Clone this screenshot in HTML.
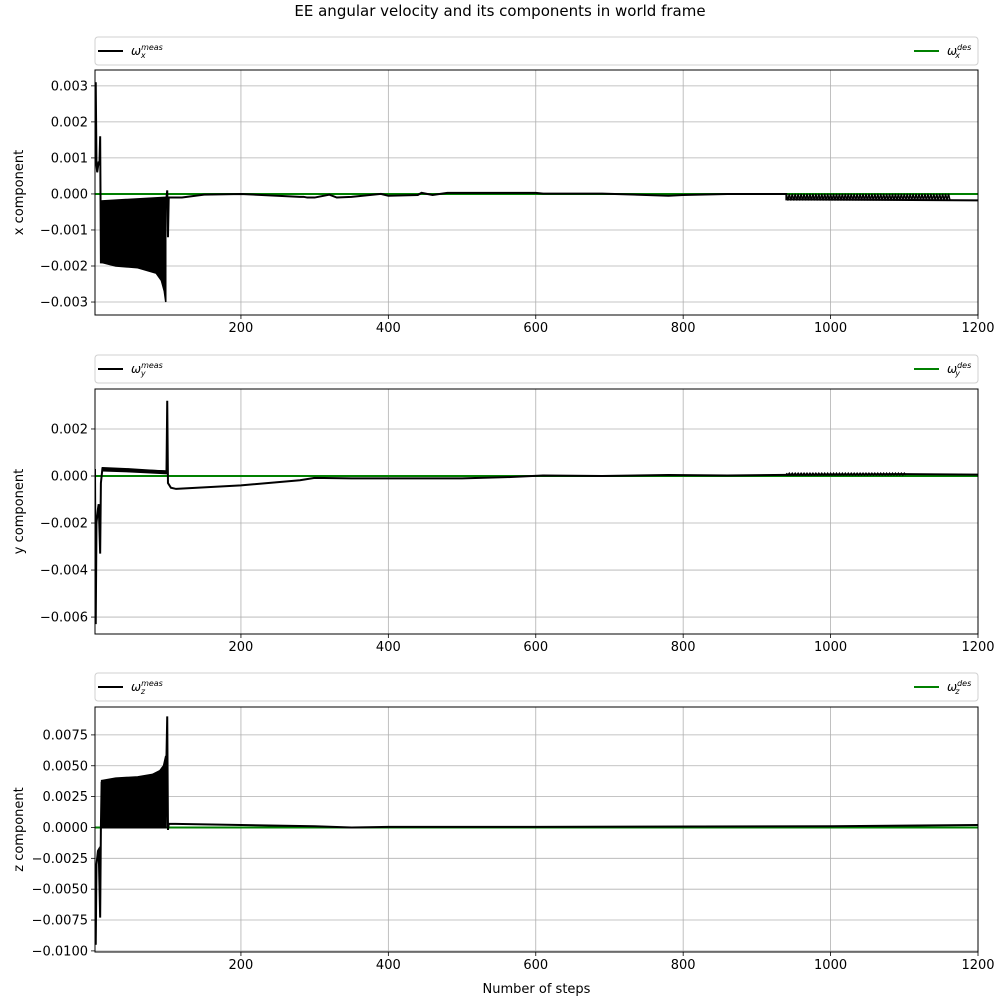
<!DOCTYPE html>
<html><head><meta charset="utf-8"><style>
body{margin:0;background:#fff;font-family:"Liberation Sans","DejaVu Sans",sans-serif}
svg text{font-family:"DejaVu Sans","Liberation Sans",sans-serif}
</style></head><body>
<svg id="fig" width="1000" height="1000" xmlns="http://www.w3.org/2000/svg">
<rect width="1000" height="1000" fill="#fff"/>
<text x="500" y="16" text-anchor="middle" font-size="15">EE angular velocity and its components in world frame</text>
</svg>
<script>
// ---- data ----
const xTicks=[200,400,600,800,1000,1200];
const xLabel="Number of steps";
const xTickLabels=["200","400","600","800","1000","1200"];
const xLine=[[2,0.003],[3,0.0031],[4,0.0008],[5,0.0006],[7,0.0009],[8,0.0008],[9,0.0016],[10,-0.0019],[11,-0.0019],[11,-0.0002],[99,-0.0001],[100,0.0001],[101,-0.0012],[102,-0.0001],[120,-0.0001],[150,-0.00002],[200,0],[280,-0.00008],[285,-0.00008],[290,-0.0001],[300,-0.0001],[320,-0.00002],[330,-0.0001],[350,-0.00008],[390,0],[400,-0.00005],[440,-0.00003],[445,0.00003],[460,-0.00003],[480,0.00003],[500,0.00003],[520,0.00003],[560,0.00003],[600,0.00003],[610,0.00001],[690,0.00001],[780,-0.00005],[800,-0.00003],[860,0],[940,0],[940,-0.00015],[1200,-0.00018]];
const xBandSteps=[11,30,60,85,92,96,98];
const xBandUpper=[-0.00022,-0.0002,-0.00017,-0.00013,-0.00012,-0.00011,-0.0001];
const xBandLower=[-0.0019,-0.002,-0.00205,-0.0022,-0.0024,-0.0027,-0.003];
const xOsc=[[940,1160,0,-0.00018]];
const yLine=[[2,0.0003],[3,-0.0063],[4,-0.002],[6,-0.0014],[7,-0.0012],[9,-0.0033],[10,-0.0003],[12,0.0003],[99,0.0002],[100,0.0032],[101,-0.0003],[105,-0.0005],[112,-0.00055],[200,-0.0004],[280,-0.00018],[300,-0.00008],[350,-0.0001],[400,-0.0001],[450,-0.0001],[500,-0.0001],[560,-0.00005],[610,0.00002],[690,0],[780,0.00004],[860,0.00002],[940,0.00005],[1100,0.00008],[1200,0.00006]];
const yBandSteps=[12,50,99];
const yBandUpper=[0.00035,0.0003,0.0002];
const yBandLower=[0.00022,0.00018,0.0001];
const yOsc=[[940,1100,0.00012,0.00004]];
const zLine=[[2,-0.009],[3,-0.0095],[4,-0.003],[6,-0.0019],[7,-0.0018],[9,-0.0073],[10,0],[11,0.0037],[11,0],[98,0],[99,0.0058],[100,0.009],[101,-0.0002],[102,0.0003],[200,0.0002],[300,0.0001],[350,0],[400,0.00005],[600,0.00005],[1000,0.0001],[1200,0.0002]];
const zBandSteps=[11,30,60,80,90,95,98];
const zBandUpper=[0.0038,0.004,0.0041,0.0043,0.0046,0.005,0.0058];
const zBandLower=[0,0,0,0,0,0,0];
const zOsc=[];
const yTicksX=[0.003,0.002,0.001,0,-0.001,-0.002,-0.003];
const yTickLabelsX=["0.003","0.002","0.001","0.000","\u22120.001","\u22120.002","\u22120.003"];
const yTicksY=[0.002,0,-0.002,-0.004,-0.006];
const yTickLabelsY=["0.002","0.000","\u22120.002","\u22120.004","\u22120.006"];
const yTicksZ=[0.0075,0.005,0.0025,0,-0.0025,-0.005,-0.0075,-0.01];
const yTickLabelsZ=["0.0075","0.0050","0.0025","0.0000","\u22120.0025","\u22120.0050","\u22120.0075","\u22120.0100"];
// ---- render ----
const NS="http://www.w3.org/2000/svg";
const svg=document.getElementById('fig');
function mk(tag,attrs,parent){const e=document.createElementNS(NS,tag);for(const k in attrs)e.setAttribute(k,attrs[k]);(parent||svg).appendChild(e);return e;}
const L=95,R=978,X0=2,X1=1200;
function sx(v){return L+(v-X0)/(X1-X0)*(R-L);}
const panels=[
 {c:"x",top:70,bot:315,ymin:-0.00336,ymax:0.00344,line:xLine,bs:xBandSteps,bu:xBandUpper,bl:xBandLower,osc:xOsc,ticks:yTicksX,tl:yTickLabelsX,leg:37},
 {c:"y",top:389,bot:634,ymin:-0.00672,ymax:0.0037,line:yLine,bs:yBandSteps,bu:yBandUpper,bl:yBandLower,osc:yOsc,ticks:yTicksY,tl:yTickLabelsY,leg:355},
 {c:"z",top:707,bot:952,ymin:-0.01009,ymax:0.00976,line:zLine,bs:zBandSteps,bu:zBandUpper,bl:zBandLower,osc:zOsc,ticks:yTicksZ,tl:yTickLabelsZ,leg:673}
];
panels.forEach(p=>{
 const sy=v=>p.bot-(v-p.ymin)/(p.ymax-p.ymin)*(p.bot-p.top);
 const g=mk('g',{});
 
 
 xTicks.forEach((t,i)=>{const x=sx(t);
  const gl=mk('line',{x1:x,x2:x,y1:p.top,y2:p.bot,stroke:'#b0b0b0','stroke-width':0.8},g);
  
  mk('line',{x1:x,x2:x,y1:p.bot,y2:p.bot+4,stroke:'#000','stroke-width':0.8},g);
  const tx=mk('text',{x:x,y:p.bot+17,'text-anchor':'middle','font-size':13},g);tx.textContent=xTickLabels[i];
  
 });
 p.ticks.forEach((t,i)=>{const y=sy(t);
  const gl=mk('line',{x1:L,x2:R,y1:y,y2:y,stroke:'#b0b0b0','stroke-width':0.8},g);
  
  mk('line',{x1:L-4,x2:L,y1:y,y2:y,stroke:'#000','stroke-width':0.8},g);
  const tx=mk('text',{x:L-7,y:y+4.5,'text-anchor':'end','font-size':13},g);tx.textContent=p.tl[i];
  
 });
 const clip=mk('clipPath',{id:'clip'+p.c},g);mk('rect',{x:L,y:p.top,width:R-L,height:p.bot-p.top},clip);
 const cg=mk('g',{'clip-path':'url(#clip'+p.c+')'},g);
 const des=mk('line',{x1:sx(X0),x2:sx(X1),y1:sy(0),y2:sy(0),stroke:'#008000','stroke-width':2},cg);
 
 let pts=p.bs.map((s,i)=>sx(s)+','+sy(p.bu[i]));
 for(let i=p.bs.length-1;i>=0;i--)pts.push(sx(p.bs[i])+','+sy(p.bl[i]));
 const band=mk('polygon',{points:pts.join(' '),fill:'#000',stroke:'#000','stroke-width':1.5},cg);
 
 p.osc.forEach(o=>{let d='';for(let s=o[0];s<=o[1];s+=4){d+=(d?'L':'M')+sx(s)+','+sy(o[2])+'L'+sx(s+2)+','+sy(o[3]);}
  const op=mk('path',{d:d,fill:'none',stroke:'#000','stroke-width':1.5},cg);
  });
 const ln=mk('polyline',{points:p.line.map(q=>sx(q[0])+','+sy(q[1])).join(' '),fill:'none',stroke:'#000','stroke-width':2},cg);
 
 mk('rect',{x:L,y:p.top,width:R-L,height:p.bot-p.top,fill:'none',stroke:'#000','stroke-width':1},g);
 const yl=mk('text',{x:0,y:0,'text-anchor':'middle','font-size':13,transform:'translate(23,'+((p.top+p.bot)/2)+') rotate(-90)'},g);
 yl.textContent=p.c+' component';
 const lg=mk('g',{},g);
 mk('rect',{x:L,y:p.leg,width:R-L,height:28,rx:3,fill:'#fff',stroke:'#d0d0d0','stroke-width':1},lg);
 mk('line',{x1:98,x2:123,y1:p.leg+14,y2:p.leg+14,stroke:'#000','stroke-width':2},lg);
 const t1=mk('text',{x:131,y:p.leg+18,'font-size':12,'font-style':'italic'},lg);
 t1.innerHTML='ω<tspan font-size="8" dy="-5">meas</tspan><tspan font-size="8" dx="-22" dy="8">'+p.c+'</tspan>';
 
 mk('line',{x1:914,x2:939,y1:p.leg+14,y2:p.leg+14,stroke:'#008000','stroke-width':2},lg);
 const t2=mk('text',{x:947,y:p.leg+18,'font-size':12,'font-style':'italic'},lg);
 t2.innerHTML='ω<tspan font-size="8" dy="-5">des</tspan><tspan font-size="8" dx="-16" dy="8">'+p.c+'</tspan>';
 
});
const xt=mk('text',{x:(L+R)/2,y:993,'text-anchor':'middle','font-size':13});
xt.textContent=xLabel;


</script>
</body></html>
